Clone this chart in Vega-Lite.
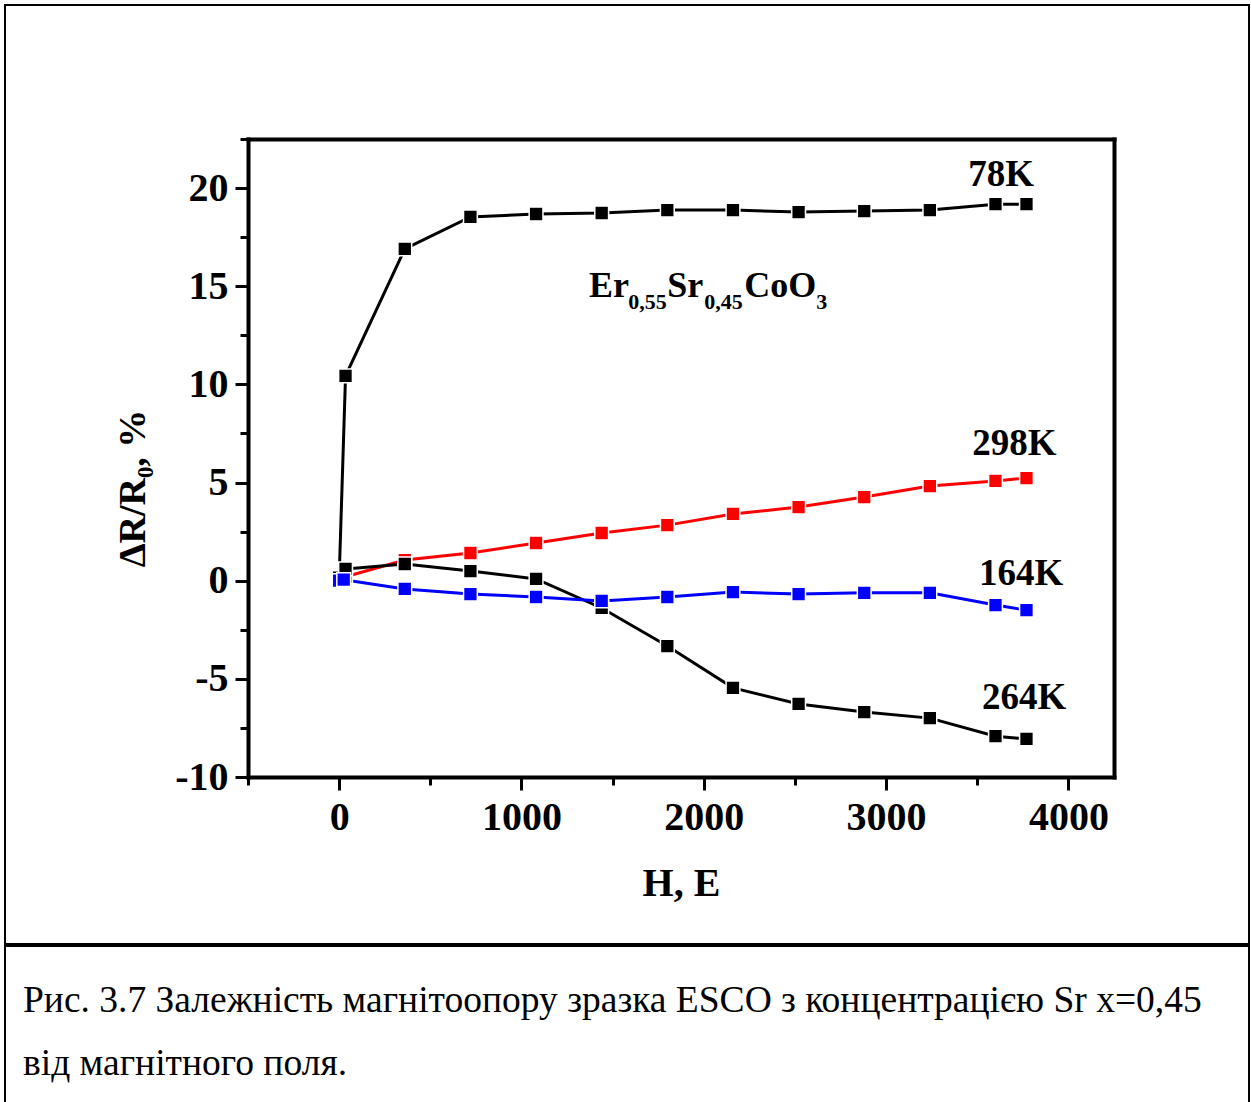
{
  "$schema": "https://vega.github.io/schema/vega-lite/v6.json",
  "padding": {"left": 4, "top": 4, "right": 3, "bottom": 2},
  "background": "white",
  "spacing": 0,
  "config": {"view": {"stroke": null}, "font": "Liberation Serif"},
  "datasets": {
    "series": [
      {"T": "298K", "H": 35, "dR": 0.2},
      {"T": "298K", "H": 360, "dR": 1.05},
      {"T": "298K", "H": 720, "dR": 1.41},
      {"T": "298K", "H": 1080, "dR": 1.92},
      {"T": "298K", "H": 1440, "dR": 2.43},
      {"T": "298K", "H": 1800, "dR": 2.83},
      {"T": "298K", "H": 2160, "dR": 3.4},
      {"T": "298K", "H": 2520, "dR": 3.75},
      {"T": "298K", "H": 2880, "dR": 4.26},
      {"T": "298K", "H": 3240, "dR": 4.82},
      {"T": "298K", "H": 3600, "dR": 5.08},
      {"T": "298K", "H": 3770, "dR": 5.23},
      {"T": "78K", "H": 0, "dR": 0.15},
      {"T": "78K", "H": 35, "dR": 10.43},
      {"T": "78K", "H": 360, "dR": 16.9},
      {"T": "78K", "H": 720, "dR": 18.53},
      {"T": "78K", "H": 1080, "dR": 18.68},
      {"T": "78K", "H": 1440, "dR": 18.73},
      {"T": "78K", "H": 1800, "dR": 18.88},
      {"T": "78K", "H": 2160, "dR": 18.88},
      {"T": "78K", "H": 2520, "dR": 18.78},
      {"T": "78K", "H": 2880, "dR": 18.83},
      {"T": "78K", "H": 3240, "dR": 18.88},
      {"T": "78K", "H": 3600, "dR": 19.18},
      {"T": "78K", "H": 3770, "dR": 19.18},
      {"T": "264K", "H": 35, "dR": 0.6},
      {"T": "264K", "H": 360, "dR": 0.85},
      {"T": "264K", "H": 720, "dR": 0.49},
      {"T": "264K", "H": 1080, "dR": 0.09},
      {"T": "264K", "H": 1440, "dR": -1.39},
      {"T": "264K", "H": 1800, "dR": -3.33},
      {"T": "264K", "H": 2160, "dR": -5.46},
      {"T": "264K", "H": 2520, "dR": -6.28},
      {"T": "264K", "H": 2880, "dR": -6.69},
      {"T": "264K", "H": 3240, "dR": -7.0},
      {"T": "264K", "H": 3600, "dR": -7.92},
      {"T": "264K", "H": 3770, "dR": -8.06},
      {"T": "164K", "H": 0, "dR": 0.0},
      {"T": "164K", "H": 25, "dR": 0.05},
      {"T": "164K", "H": 360, "dR": -0.42},
      {"T": "164K", "H": 720, "dR": -0.68},
      {"T": "164K", "H": 1080, "dR": -0.83},
      {"T": "164K", "H": 1440, "dR": -1.03},
      {"T": "164K", "H": 1800, "dR": -0.83},
      {"T": "164K", "H": 2160, "dR": -0.58},
      {"T": "164K", "H": 2520, "dR": -0.68},
      {"T": "164K", "H": 2880, "dR": -0.62},
      {"T": "164K", "H": 3240, "dR": -0.62},
      {"T": "164K", "H": 3600, "dR": -1.24},
      {"T": "164K", "H": 3770, "dR": -1.5}
    ]
  },
  "vconcat": [
    {
      "width": 1244,
      "height": 939,
      "view": {"stroke": "black", "strokeWidth": 2},
      "resolve": {"axis": {"x": "independent", "y": "independent"}},
      "layer": [
        {
          "data": {"name": "series"},
          "mark": {"type": "line", "strokeWidth": 3},
          "encoding": {
            "x": {
              "field": "H", "type": "quantitative",
              "scale": {"domain": [-500, 4250], "range": [243, 1109], "nice": false, "zero": false},
              "axis": {
                "orient": "bottom", "offset": -167,
                "values": [-500, 0, 500, 1000, 1500, 2000, 2500, 3000, 3500, 4000],
                "labelExpr": "datum.value % 1000 === 0 ? '' + datum.value : ''",
                "grid": false,
                "domainWidth": 4, "domainColor": "black", "domainCap": "square",
                "tickColor": "black", "tickWidth": 3,
                "tickSize": {"condition": {"test": "datum.value % 1000 === 0", "value": 13}, "value": 8},
                "labelFont": "Liberation Serif", "labelFontWeight": "bold", "labelFontSize": 40, "labelColor": "black",
                "labelPadding": 7, "labelFlush": false, "labelOverlap": false, "labelBound": false,
                "title": "H, E",
                "titleFont": "Liberation Serif", "titleFontSize": 40, "titleFontWeight": "bold", "titleColor": "black",
                "titlePadding": 26
              }
            },
            "y": {
              "field": "dR", "type": "quantitative",
              "scale": {"domain": [-10, 22.5], "range": [772, 134], "nice": false, "zero": false},
              "axis": {
                "orient": "left", "offset": -243,
                "values": [-10, -7.5, -5, -2.5, 0, 2.5, 5, 7.5, 10, 12.5, 15, 17.5, 20, 22.5],
                "labelExpr": "datum.value % 5 === 0 ? '' + datum.value : ''",
                "grid": false,
                "domainWidth": 4, "domainColor": "black", "domainCap": "square",
                "tickColor": "black", "tickWidth": 3,
                "tickSize": {"condition": {"test": "datum.value % 5 === 0", "value": 13}, "value": 8},
                "labelFont": "Liberation Serif", "labelFontWeight": "bold", "labelFontSize": 40, "labelColor": "black",
                "labelPadding": 7, "labelFlush": false, "labelOverlap": false, "labelBound": false,
                "title": "ΔR/R₀, %",
                "titleFont": "Liberation Serif", "titleFontSize": 38, "titleFontWeight": "bold", "titleColor": "black",
                "titlePadding": 22, "titleY": 483
              }
            },
            "color": {
              "field": "T", "type": "nominal",
              "scale": {"domain": ["298K", "78K", "264K", "164K"], "range": ["#ff0000", "#000000", "#000000", "#0000ff"]},
              "legend": null
            },
            "order": {"field": "H", "type": "quantitative"}
          }
        },
        {
          "data": {"name": "series"},
          "mark": {"type": "point", "shape": "square", "filled": true, "size": 190, "opacity": 1, "stroke": "white", "strokeWidth": 1.5},
          "encoding": {
            "x": {
              "field": "H", "type": "quantitative",
              "axis": {"orient": "top", "offset": -134, "grid": false, "ticks": false, "labels": false, "title": null,
                       "domainWidth": 4, "domainColor": "black", "domainCap": "square"}
            },
            "y": {
              "field": "dR", "type": "quantitative",
              "axis": {"orient": "right", "offset": -135, "grid": false, "ticks": false, "labels": false, "title": null,
                       "domainWidth": 4, "domainColor": "black", "domainCap": "square"}
            },
            "fill": {"field": "T", "type": "nominal", "scale": {"domain": ["298K", "78K", "264K", "164K"], "range": ["#ff0000", "#000000", "#000000", "#0000ff"]}, "legend": null}
          }
        },
        {
          "data": {"values": [
            {"label": "78K", "H": 3631, "dR": 20.68},
            {"label": "298K", "H": 3703, "dR": 6.98},
            {"label": "164K", "H": 3741, "dR": 0.36},
            {"label": "264K", "H": 3757, "dR": -5.96}
          ]},
          "mark": {"type": "text", "font": "Liberation Serif", "fontWeight": "bold", "fontSize": 37, "align": "center", "baseline": "middle", "color": "black"},
          "encoding": {
            "x": {"field": "H", "type": "quantitative", "axis": null},
            "y": {"field": "dR", "type": "quantitative", "axis": null},
            "text": {"field": "label"}
          }
        },
        {
          "data": {"values": [
            {"part": "Er", "H": 1371, "dR": 14.47},
            {"part": "Sr", "H": 1799, "dR": 14.47},
            {"part": "CoO", "H": 2222, "dR": 14.47}
          ]},
          "mark": {"type": "text", "font": "Liberation Serif", "fontWeight": "bold", "fontSize": 36, "align": "left", "baseline": "alphabetic", "color": "black"},
          "encoding": {
            "x": {"field": "H", "type": "quantitative", "axis": null},
            "y": {"field": "dR", "type": "quantitative", "axis": null},
            "text": {"field": "part"}
          }
        },
        {
          "data": {"values": [
            {"part": "0,55", "H": 1585, "dR": 13.86},
            {"part": "0,45", "H": 2002, "dR": 13.86},
            {"part": "3", "H": 2617, "dR": 13.86}
          ]},
          "mark": {"type": "text", "font": "Liberation Serif", "fontWeight": "bold", "fontSize": 22, "align": "left", "baseline": "alphabetic", "color": "black"},
          "encoding": {
            "x": {"field": "H", "type": "quantitative", "axis": null},
            "y": {"field": "dR", "type": "quantitative", "axis": null},
            "text": {"field": "part"}
          }
        }
      ]
    },
    {
      "width": 1244,
      "height": 157,
      "view": {"stroke": "black", "strokeWidth": 2},
      "data": {"values": [
        {"line": 1, "text": "Рис. 3.7 Залежність магнітоопору зразка ESCO з концентрацією Sr x=0,45"},
        {"line": 2, "text": "від магнітного поля."}
      ]},
      "mark": {"type": "text", "align": "left", "baseline": "alphabetic", "font": "Liberation Serif", "fontSize": 37.5, "dx": 18, "color": "black"},
      "encoding": {
        "x": {"datum": 0, "type": "quantitative", "scale": {"domain": [0, 1]}, "axis": null},
        "y": {"field": "line", "type": "quantitative", "scale": {"domain": [-0.048, 2.444], "reverse": true, "nice": false, "zero": false}, "axis": null},
        "text": {"field": "text"}
      }
    }
  ]
}
